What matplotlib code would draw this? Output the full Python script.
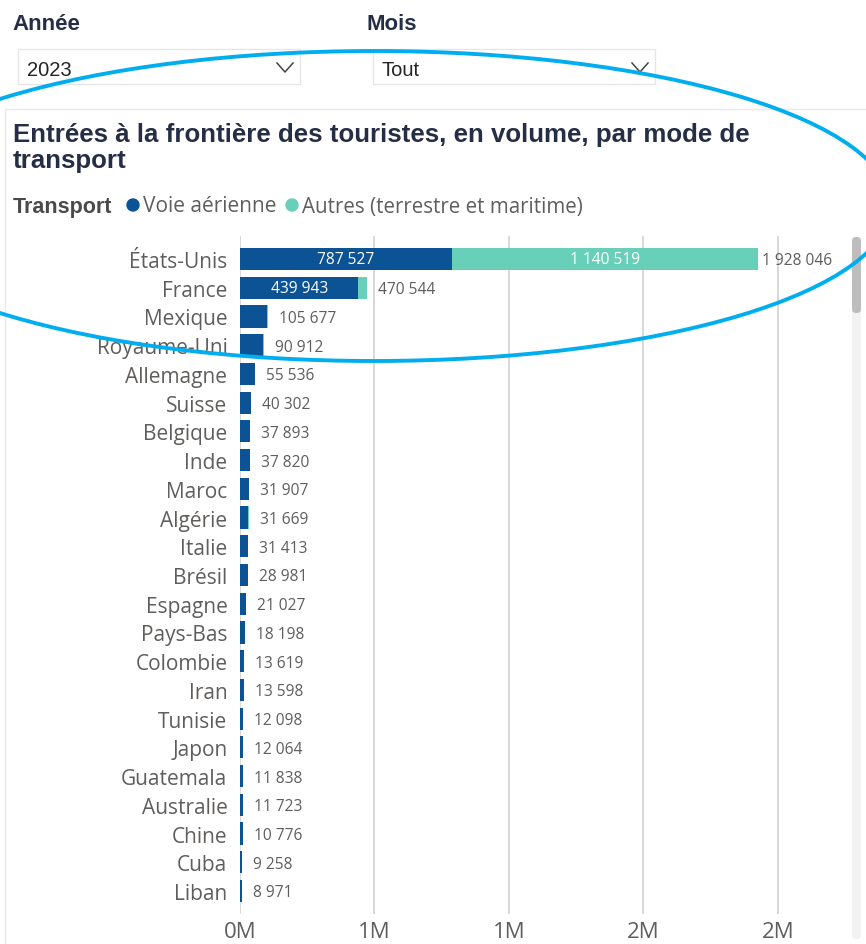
import matplotlib
matplotlib.use("Agg")
import matplotlib.pyplot as plt
from matplotlib.patches import Ellipse, Rectangle, Circle, FancyBboxPatch
from matplotlib.ticker import FixedLocator

# ---------------- data ----------------
countries = ["États-Unis", "France", "Mexique", "Royaume-Uni", "Allemagne", "Suisse",
             "Belgique", "Inde", "Maroc", "Algérie", "Italie", "Brésil", "Espagne",
             "Pays-Bas", "Colombie", "Iran", "Tunisie", "Japon", "Guatemala",
             "Australie", "Chine", "Cuba", "Liban"]
totals = [1928046, 470544, 105677, 90912, 55536, 40302, 37893, 37820, 31907, 31669,
          31413, 28981, 21027, 18198, 13619, 13598, 12098, 12064, 11838, 11723,
          10776, 9258, 8971]
air = [787527, 439943, 101000, 85500, 54800, 39900, 37600, 37700, 31700, 31500,
       31200, 28800, 20900, 18000, 13500, 13550, 12000, 12000, 11700, 11650,
       10700, 9200, 8930]
others = [t - a for t, a in zip(totals, air)]
inside_air_labels = {0: "787 527", 1: "439 943"}
inside_other_labels = {0: "1 140 519"}
tick_vals = [0, 500000, 1000000, 1500000, 2000000]
tick_labels = ["0M", "1M", "1M", "2M", "2M"]
legend_title = "Transport"
series_names = ["Voie aérienne", "Autres (terrestre et maritime)"]
title = "Entrées à la frontière des touristes, en volume, par mode de\ntransport"

C_AIR = "#0B5394"
C_OTH = "#68CFB8"
C_TXT = "#605E5C"
C_HEAD = "#252E45"
C_ELL = "#00AEEF"

W, H = 866, 945
fig = plt.figure(figsize=(W / 100, H / 100), dpi=100)
fig.patch.set_facecolor("white")

def fmt(v):
    return f"{v:,}".replace(",", " ")

# background axes in pixel coordinates
bg = fig.add_axes([0, 0, 1, 1], zorder=0)
bg.set_xlim(0, W)
bg.set_ylim(H, 0)
bg.axis("off")

# filter headers
bg.text(12, 25, "Année", fontsize=16, fontweight="bold", color=C_HEAD,
        family="Liberation Sans", va="center", ha="left")
bg.text(367, 25, "Mois", fontsize=16, fontweight="bold", color=C_HEAD,
        family="Liberation Sans", va="center", ha="left")
for x0, txt in [(18, "2023"), (373, "Tout")]:
    bg.add_patch(Rectangle((x0, 50), 282, 35, facecolor="white", edgecolor="#E6E6E6", lw=1))
    bg.text(x0 + 9, 70, txt, fontsize=14.5, color="#252423", family="Liberation Sans",
            va="center", ha="left")
    cx = x0 + 267
    bg.plot([cx - 8, cx, cx + 8], [64, 73, 64], color="#444444", lw=1.1)

# card
bg.add_patch(Rectangle((5, 110), 870, 850, facecolor="white", edgecolor="#EAEAEA", lw=1))

# title
bg.text(13, 148, title, fontsize=18.6, fontweight="bold", color=C_HEAD,
        family="Liberation Sans", va="center", ha="left", linespacing=1.15)

# legend
bg.text(13, 207, legend_title, fontsize=15.5, fontweight="bold", color="#4A4A4A",
        family="Liberation Sans", va="center", ha="left")
bg.add_patch(Circle((133, 206), 6, color=C_AIR))
bg.text(143, 207, series_names[0], fontsize=15, color=C_TXT, family="Open Sans",
        va="center", ha="left")
bg.add_patch(Circle((292, 206), 6, color=C_OTH))
bg.text(302, 207, series_names[1], fontsize=14.8, color=C_TXT, family="Open Sans",
        va="center", ha="left")

# scrollbar
bg.add_patch(FancyBboxPatch((852, 240), 9, 700, boxstyle="round,pad=0,rounding_size=4",
                            facecolor="#F2F2F2", edgecolor="none"))
bg.add_patch(FancyBboxPatch((852, 238), 9, 76, boxstyle="round,pad=0,rounding_size=4",
                            facecolor="#BDBDBD", edgecolor="none"))

# ---------------- chart ----------------
ax_l, ax_r, ax_t, ax_b = 240, 845, 237, 915
XMAX = 2.25e6
ax = fig.add_axes([ax_l / W, 1 - ax_b / H, (ax_r - ax_l) / W, (ax_b - ax_t) / H], zorder=1)
ax.patch.set_alpha(0)
y = list(range(len(countries)))
ax.barh(y, air, height=0.77, color=C_AIR, zorder=3)
ax.barh(y, others, left=air, height=0.77, color=C_OTH, zorder=3)
ax.set_ylim(len(countries) - 1 + 0.8, -0.8)
ax.set_xlim(0, XMAX)
ax.xaxis.set_major_locator(FixedLocator(tick_vals))
ax.set_xticklabels(tick_labels)
ax.set_yticks(y)
ax.set_yticklabels(countries)
for lab in ax.get_yticklabels():
    lab.set_family("Open Sans")
    lab.set_fontsize(15)
    lab.set_color(C_TXT)
for lab in ax.get_xticklabels():
    lab.set_family("Open Sans")
    lab.set_fontsize(16)
    lab.set_color(C_TXT)
ax.tick_params(axis="y", length=0, pad=9)
ax.tick_params(axis="x", length=0, pad=5)
ax.grid(axis="x", color="#D6D6D6", lw=1.3, zorder=0)
for s in ax.spines.values():
    s.set_visible(False)

px = XMAX / (ax_r - ax_l)  # data units per pixel
for i, (a, o, t) in enumerate(zip(air, others, totals)):
    gap = 11 if (t / px + 11 + 85) < (ax_r - ax_l) else 4
    ax.text(t + gap * px, i + 0.05, fmt(t), va="center", ha="left", fontsize=11.2,
            color=C_TXT, family="Open Sans", zorder=4)
    if i in inside_air_labels:
        ax.text(a / 2, i, inside_air_labels[i], va="center", ha="center", fontsize=11.2,
                color="white", family="Open Sans", zorder=4)
    if i in inside_other_labels:
        ax.text(a + o / 2, i, inside_other_labels[i], va="center", ha="center", fontsize=11.2,
                color="white", family="Open Sans", zorder=4)

# ---------------- overlay ellipse ----------------
ov = fig.add_axes([0, 0, 1, 1], zorder=5)
ov.set_xlim(0, W)
ov.set_ylim(H, 0)
ov.axis("off")
ov.patch.set_alpha(0)
ov.add_patch(Ellipse((374, 207), 2 * 517, 2 * 155, fill=False, edgecolor=C_ELL, lw=2.8))

fig.savefig("out.png", dpi=100)
